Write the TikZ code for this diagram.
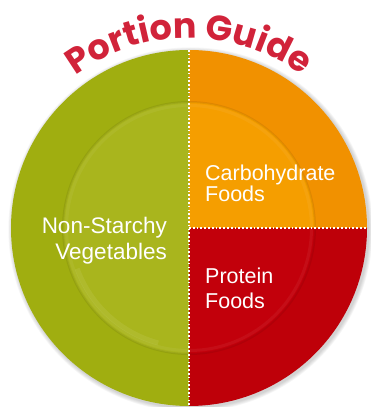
\documentclass[tikz,border=0pt]{standalone}
\usepackage{fontspec}
\setmainfont{Liberation Sans}
\newfontfamily\titlefont{Poppins}
\usetikzlibrary{decorations.text}
\definecolor{vegRim}{HTML}{A0AE10}
\definecolor{vegWell}{HTML}{A9B51D}
\definecolor{carbRim}{HTML}{F19100}
\definecolor{carbWell}{HTML}{F59E00}
\definecolor{protRim}{HTML}{BE0009}
\definecolor{protWell}{HTML}{C2000B}
\definecolor{titleRed}{HTML}{D1233A}
\tikzset{
  lbl/.style={text=white, inner sep=0pt, font=\fontsize{21.5}{21}\selectfont},
  divider/.style={white, line width=1.7pt, dash pattern=on 1.7pt off 2.1pt},
}
\begin{document}
\begin{tikzpicture}[x=1pt,y=1pt]
\useasboundingbox (0,0) rectangle (370,407);
\coordinate (c) at (189,179);
% soft shadow
\foreach \i in {1,...,6}{
  \fill[black, opacity=0.03] (190.5,177.5) circle ({178+\i*0.7});
}
% plate rim
\fill[vegRim] (c) ++(90:178) arc (90:270:178) -- cycle;
\fill[carbRim] (c) -- ++(0:178) arc (0:90:178) -- cycle;
\fill[protRim] (c) -- ++(270:178) arc (270:360:178) -- cycle;
% plate well
\fill[vegWell] (c) ++(90:126) arc (90:270:126) -- cycle;
\fill[carbWell] (c) -- ++(0:126) arc (0:90:126) -- cycle;
\fill[protWell] (c) -- ++(270:126) arc (270:360:126) -- cycle;
% well edge
\draw[black, opacity=0.07, line width=2pt] (c) circle (126);
\draw[white, opacity=0.05, line width=3pt] (c) circle (122.5);
\draw[white, opacity=0.07, line width=5pt] (c) ++(200:119) arc (200:255:119);
% dividers
\coordinate (ptop) at (189,357);
\coordinate (pbot) at (189,1);
\coordinate (pright) at (367,179);
\draw[divider] (ptop) -- (pbot);
\draw[divider] (c) -- (pright);
% labels
\node[lbl, anchor=base west, align=left] (carb) at (205,205.3) {Carbohydrate\\Foods};
\node[lbl, anchor=base west, align=left, font=\fontsize{21.5}{24.3}\selectfont] (prot) at (205,98.7) {Protein\\Foods};
\node[lbl, anchor=base east, align=right, font=\fontsize{22.5}{26}\selectfont] (veg) at (167,147) {Non-Starchy\\Vegetables};
% title
\path[decorate, decoration={text along path, text align=center,
  text={|\titlefont\bfseries\fontsize{35}{35}\selectfont\color{titleRed}|Portion Guide}}]
  (c) ++(140:190) arc (140:40:190);
\end{tikzpicture}
\end{document}
